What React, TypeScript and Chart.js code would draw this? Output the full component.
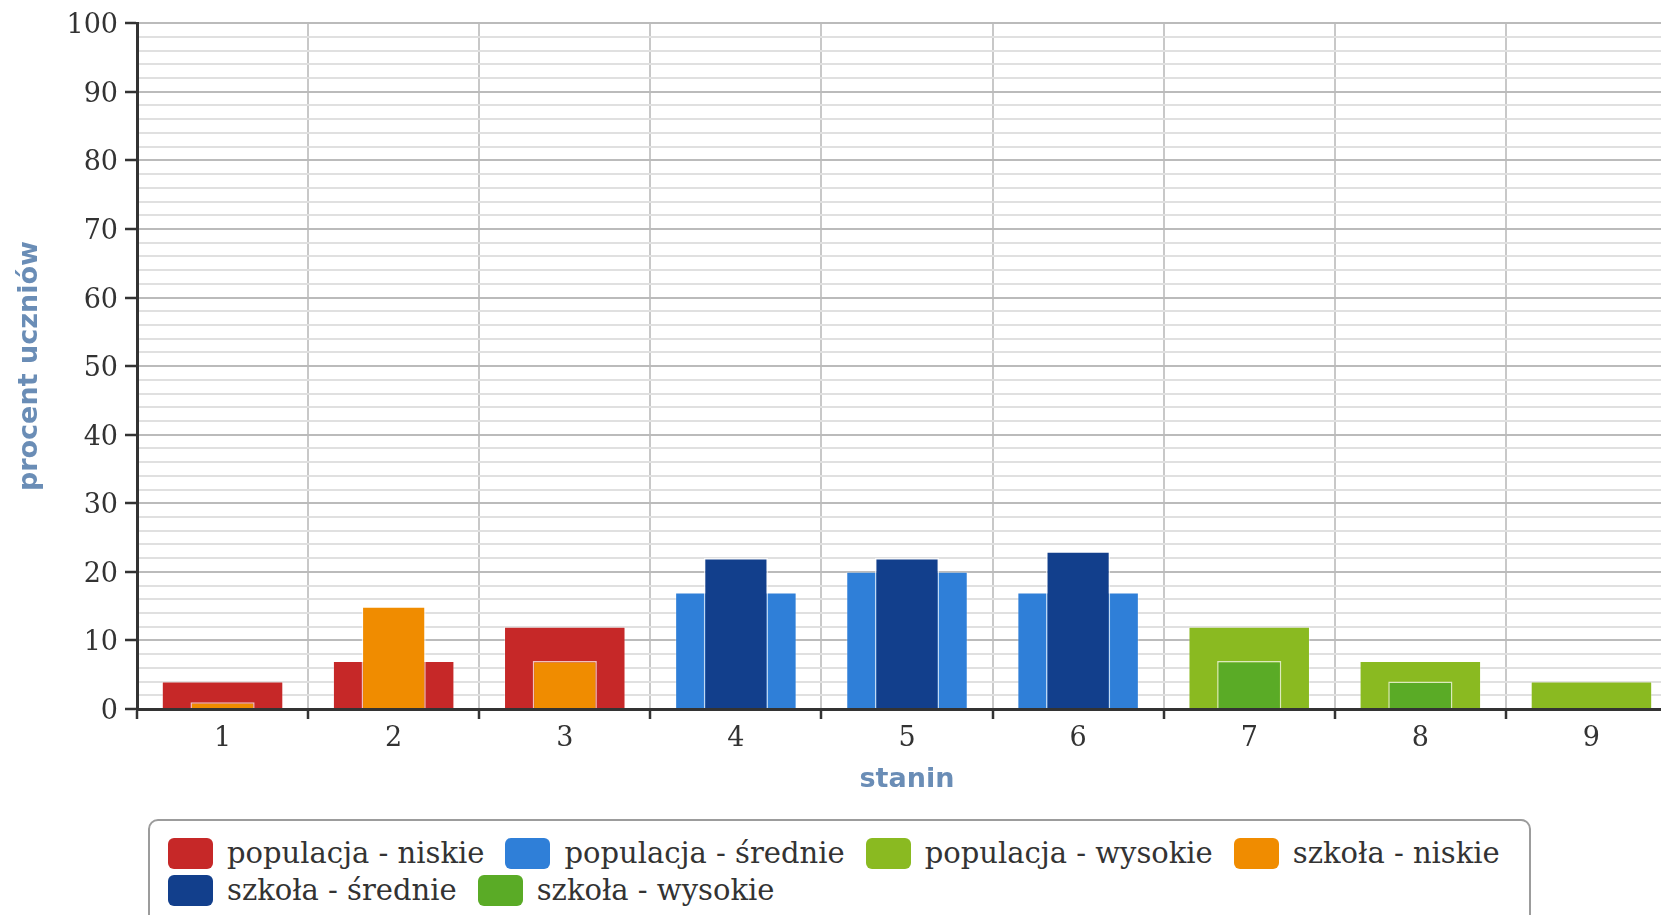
import React, { useEffect, useRef } from 'react';
import { Chart, registerables } from 'chart.js';

Chart.register(...registerables);

// ---- data ----
const stanines = ['1', '2', '3', '4', '5', '6', '7', '8', '9'];
const populacjaNiskie = [4, 7, 12, null, null, null, null, null, null];
const populacjaSrednie = [null, null, null, 17, 20, 17, null, null, null];
const populacjaWysokie = [null, null, null, null, null, null, 12, 7, 4];
const szkolaNiskie = [1, 15, 7, null, null, null, null, null, null];
const szkolaSrednie = [null, null, null, 22, 22, 23, null, null, null];
const szkolaWysokie = [null, null, null, null, null, null, 7, 4, 0];

const seriesNames = [
  'populacja - niskie',
  'populacja - średnie',
  'populacja - wysokie',
  'szkoła - niskie',
  'szkoła - średnie',
  'szkoła - wysokie',
];
const seriesColors = ['#c62828', '#2f7fd8', '#8aba21', '#f08c00', '#123f8c', '#5aab26'];

const yTitle = 'procent uczniów';
const xTitle = 'stanin';

const serif = '"DejaVu Serif", serif';
const sans = '"DejaVu Sans", sans-serif';

export default function App() {
  const canvasRef = useRef<HTMLCanvasElement | null>(null);

  useEffect(() => {
    if (!canvasRef.current) return;
    const popSeries = [populacjaNiskie, populacjaSrednie, populacjaWysokie];
    const schSeries = [szkolaNiskie, szkolaSrednie, szkolaWysokie];
    const datasets: any[] = [];
    popSeries.forEach((d, i) => {
      datasets.push({
        label: seriesNames[i],
        data: d,
        backgroundColor: seriesColors[i],
        borderColor: 'rgba(255,255,255,0.3)',
        borderWidth: 1,
        grouped: false,
        categoryPercentage: 1,
        barPercentage: 0.71,
        order: 2,
      });
    });
    schSeries.forEach((d, i) => {
      datasets.push({
        label: seriesNames[i + 3],
        data: d,
        backgroundColor: seriesColors[i + 3],
        borderColor: 'rgba(255,255,255,0.7)',
        borderWidth: 1.5,
        grouped: false,
        categoryPercentage: 1,
        barPercentage: 0.375,
        order: 1,
      });
    });

    const chart = new Chart(canvasRef.current, {
      type: 'bar',
      data: { labels: stanines, datasets },
      options: {
        animation: false,
        responsive: false,
        maintainAspectRatio: false,
        layout: { padding: { top: 23, right: 23, bottom: 0, left: 0 } },
        plugins: { legend: { display: false }, tooltip: { enabled: false } },
        scales: {
          x: {
            type: 'category',
            offset: true,
            grid: {
              offset: true,
              color: '#c8c8c8',
              lineWidth: 2,
              tickColor: '#333',
              tickLength: 10,
              tickWidth: 2.5,
            },
            border: { color: '#333', width: 3 },
            ticks: {
              font: { family: serif, size: 27 },
              color: '#333',
              padding: 4,
              maxRotation: 0,
              autoSkip: false,
            },
            title: {
              display: true,
              text: xTitle,
              color: '#6a8db6',
              font: { family: sans, size: 27, weight: 'bold' },
              padding: { top: 0, bottom: 4 },
            },
            afterFit: (s: any) => {
              s.height = 91;
            },
          },
          y: {
            min: 0,
            max: 100,
            grid: {
              color: (ctx: any) => (ctx.tick && ctx.tick.value % 10 === 0 ? '#bbbbbb' : '#e0e0e0'),
              lineWidth: 2,
              tickLength: 12,
              tickWidth: 2.5,
              tickColor: (ctx: any) => (ctx.tick && ctx.tick.value % 10 === 0 ? '#333' : 'rgba(0,0,0,0)'),
            },
            border: { color: '#333', width: 3 },
            ticks: {
              stepSize: 2,
              autoSkip: false,
              padding: 7,
              labelOffset: 3,
              color: '#333',
              font: { family: serif, size: 27 },
              callback: (v: any) => (Number(v) % 10 === 0 ? String(v) : ''),
            },
            title: {
              display: true,
              text: yTitle,
              color: '#6a8db6',
              font: { family: sans, size: 27, weight: 'bold' },
              padding: { top: 14, bottom: 0 },
            },
            afterFit: (s: any) => {
              s.width = 137;
            },
          },
        },
      },
    });
    return () => chart.destroy();
  }, []);

  const legendRows = [
    [0, 1, 2, 3],
    [4, 5],
  ];

  return (
    <div
      style={{
        position: 'absolute',
        left: 0,
        top: 0,
        width: 1661,
        height: 915,
        overflow: 'hidden',
        background: '#fff',
      }}
    >
      <canvas
        ref={canvasRef}
        width={1700}
        height={800}
        style={{ position: 'absolute', left: 0, top: 0, width: 1700, height: 800 }}
      />
      <div
        style={{
          position: 'absolute',
          left: 148,
          top: 819,
          width: 1383,
          height: 140,
          boxSizing: 'border-box',
          border: '2px solid #9c9c9c',
          borderRadius: 10,
          background: '#fff',
        }}
      >
        {legendRows.map((row, r) => (
          <div
            key={r}
            style={{
              position: 'absolute',
              left: 18,
              top: 17 + r * 37,
              display: 'flex',
              whiteSpace: 'nowrap',
            }}
          >
            {row.map((i) => (
              <div
                key={i}
                style={{ display: 'flex', alignItems: 'center', height: 31, marginRight: 21 }}
              >
                <div
                  style={{
                    width: 45,
                    height: 31,
                    borderRadius: 6,
                    background: seriesColors[i],
                    marginRight: 14,
                  }}
                />
                <span
                  style={{
                    fontFamily: serif,
                    fontSize: 29,
                    lineHeight: '31px',
                    color: '#333',
                  }}
                >
                  {seriesNames[i]}
                </span>
              </div>
            ))}
          </div>
        ))}
      </div>
    </div>
  );
}
